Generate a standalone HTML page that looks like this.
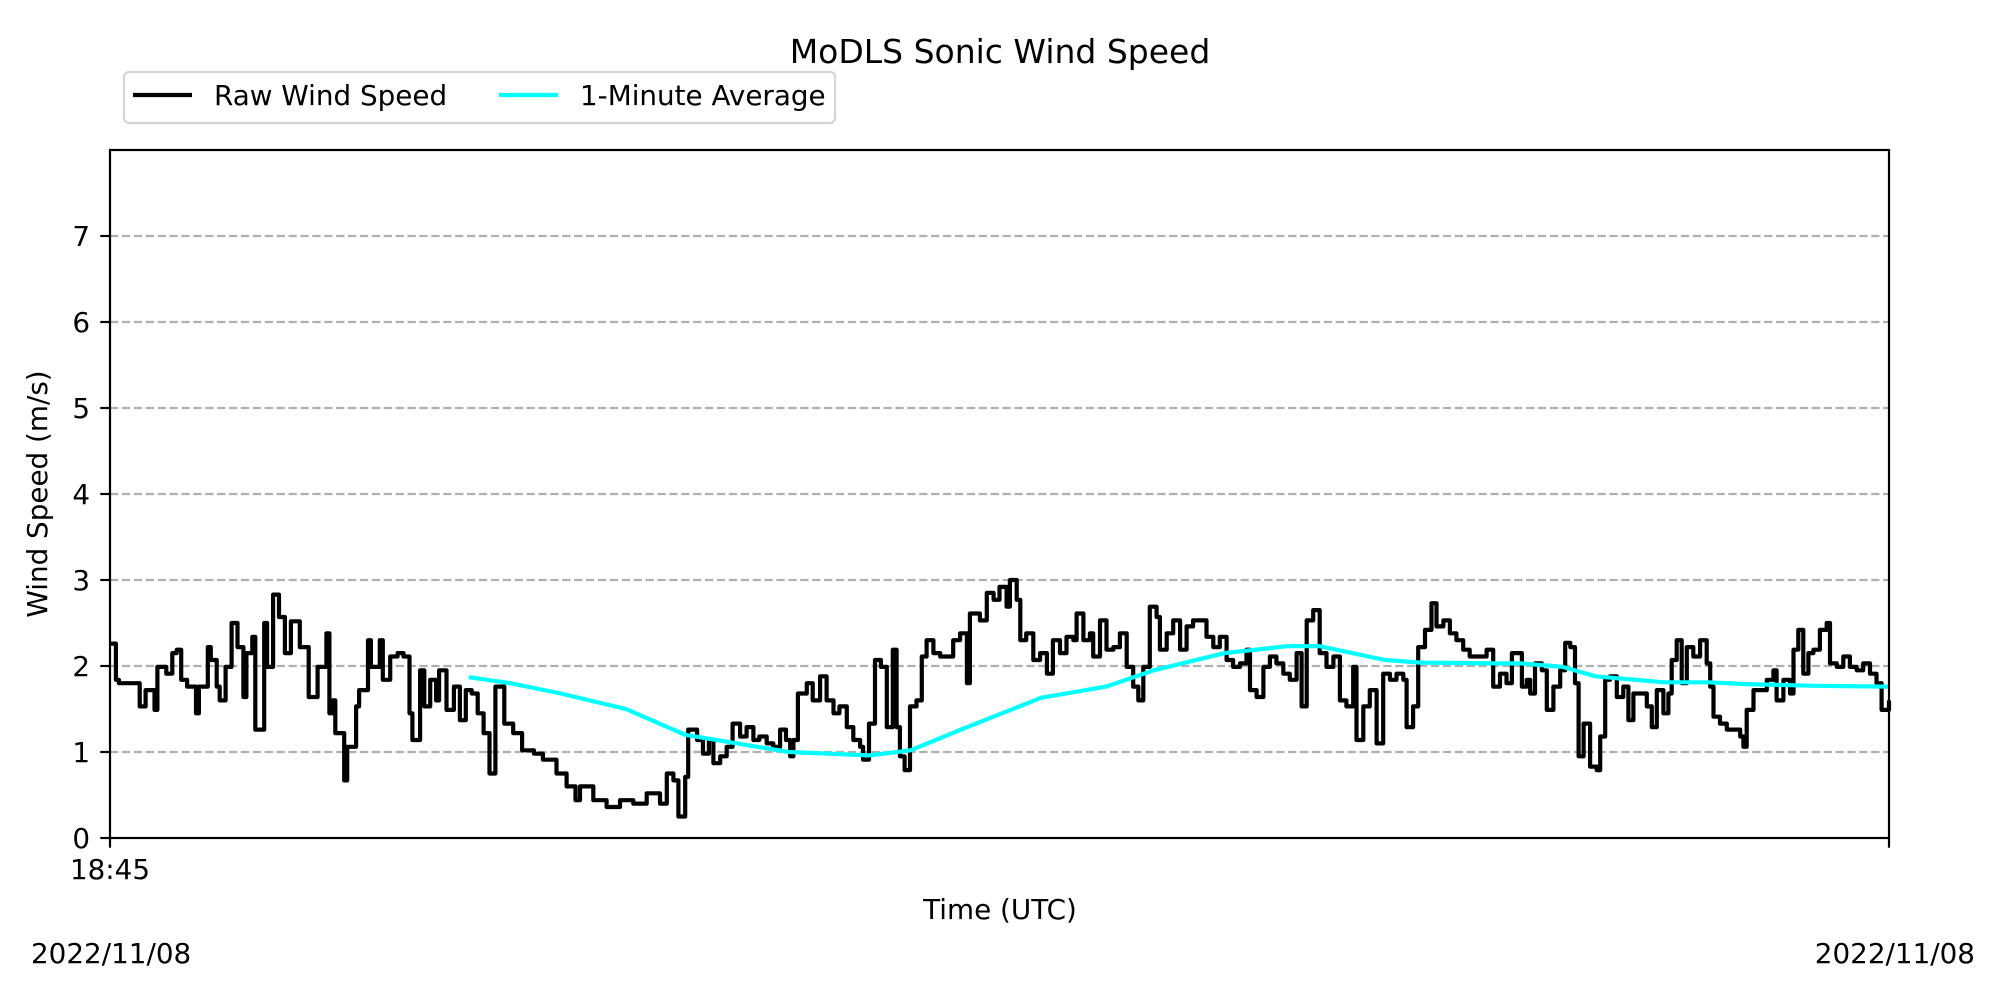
<!DOCTYPE html>
<html><head><meta charset="utf-8"><style>
html,body{margin:0;padding:0;background:#fff;}
svg{display:block;font-family:"DejaVu Sans","Liberation Sans",sans-serif;}
</style></head><body>
<svg id="chart" width="2000" height="1000" viewBox="0 0 2000 1000">
<rect x="0" y="0" width="2000" height="1000" fill="#fff"/>
<text x="1000" y="63" font-size="33" text-anchor="middle">MoDLS Sonic Wind Speed</text>
<g id="grid"></g>
<g id="series"></g>
<rect x="110" y="150" width="1779" height="688" fill="none" stroke="#000" stroke-width="2.2"/>
<g id="yticks"></g>
<g id="xticks"></g>
<text x="47" y="494" font-size="27.8" text-anchor="middle" transform="rotate(-90 47 494)">Wind Speed (m/s)</text>
<text x="1000" y="919" font-size="27.8" text-anchor="middle">Time (UTC)</text>
<text x="31" y="963" font-size="27.8">2022/11/08</text>
<text x="1975" y="963" font-size="27.8" text-anchor="end">2022/11/08</text>
<g>
<rect x="124" y="72" width="711" height="51" rx="5" fill="#fff" stroke="#d5d5d5" stroke-width="2.2"/>
<line x1="133" y1="95" x2="192" y2="95" stroke="#000" stroke-width="4.2"/>
<text x="214" y="105" font-size="27.8">Raw Wind Speed</text>
<line x1="499" y1="95" x2="558" y2="95" stroke="#00ffff" stroke-width="4.2"/>
<text x="580" y="105" font-size="27.8">1-Minute Average</text>
</g>
</svg>
<script>
const rawTimes=[0,2,3,9,10,12,15,16,19,21,22.5,24,26,29,30,33,34,36,37,39,41,43,45,46,48,49,52,53,55,57,59,61,64,67,70,73,74,75,76,79,80,83,84,87,88,91,92,94.5,97,99,101,102,104.6,106,108,110,111,113.5,116,118,120,122,124,126,128,130,133,136,139,143,146,150.6,154,157,
158.5,163,167.5,172,176.5,181,185.5,187.8,190,191.7,194,195,198,200,202,203.5,205.8,208,210,212.5,214.7,217,219,221.5,223.7,226,228,229.4,230.5,232,235,237,239.5,241.7,244,246,248.5,250.7,253,254,256,258,260,262,264,265.3,266.4,268,269.8,272,273.8,275.4,277.7,280,282,284.4,286.7,289,290,293.4,295.7,298,300,302.4,303.5,305.8,307,309,311.4,313.7,
316,318,320.4,322.6,324.9,326,328.3,330.5,331.6,333.9,336.1,338.4,340.6,342.9,345.1,346.8,348.5,350.7,353,354.1,356.4,358.6,360.9,363.1,365.3,367.6,369.8,372.1,374.3,376.6,378.8,381.1,383.3,384.5,386.7,389,391.2,393.4,395.7,397.9,400.2,401.9,403.6,405.8,408,410.3,412.6,414.8,417,419.3,420.4,422.7,424.9,427.2,429.4,431.7,433.9,436.2,437.3,439.5,441.2,443.5,445.7,447.4,449.7,451.9,454.1,456.4,458.6,462,464.3,466.5,468.8,
471,472.8,474.5,476.2,477.8,479,480.6,482.9,484.6,486.8,489.1,490.8,492.5,494.1,495.3,497,499.2,501.4,502.6,504.3,505.9,508.2,510.4,512.1,513.8,516,518.3,520,521.7,523.9,525.6,526.7,528.4,530.1,531.8,534,536.3,538.5,539.7,540.8,543,545.3,547.5,549.8,550.9,552,554.3,556.5,558.8,561,562.1,564.4,566.6,567.8,569.4,571.1,572.8,574.5,576.7,579,580.1,582.4,584.6,586.8,589.1,591.3,593.6,595.8,597.5,600];
const rawValues=[2.26,1.84,1.8,1.8,1.53,1.72,1.49,1.99,1.91,2.15,2.19,1.84,1.76,1.45,1.76,2.22,2.07,1.76,1.6,1.99,2.5,2.22,1.64,2.15,2.34,1.26,2.5,1.99,2.83,2.57,2.15,2.52,2.22,1.64,1.99,2.38,1.45,1.6,1.22,0.67,1.06,1.53,1.72,2.3,1.99,2.3,1.84,2.11,2.15,2.11,1.45,1.14,1.95,1.53,1.84,1.6,1.95,1.49,1.76,1.37,1.72,1.68,1.45,1.22,0.75,1.76,1.33,1.22,1.02,0.98,0.91,0.75,0.6,0.44,
0.6,0.44,0.36,0.44,0.4,0.52,0.4,0.75,0.67,0.25,0.71,1.26,1.14,0.98,1.14,0.87,0.95,1.06,1.33,1.18,1.29,1.14,1.18,1.1,1.06,1.26,1.14,0.95,1.14,1.68,1.8,1.6,1.88,1.6,1.45,1.53,1.29,1.14,1.06,0.91,1.33,2.07,1.99,1.29,2.19,1.29,0.95,0.79,1.53,1.6,2.11,2.3,2.15,2.11,2.11,2.3,2.38,1.8,2.61,2.53,2.85,2.77,2.92,2.69,3.0,2.77,2.3,2.38,2.07,2.15,
1.91,2.3,2.15,2.34,2.3,2.61,2.3,2.38,2.11,2.53,2.19,2.22,2.38,1.99,1.76,1.6,1.99,2.69,2.57,2.19,2.38,2.53,2.19,2.46,2.53,2.53,2.34,2.22,2.34,2.07,1.99,2.03,2.19,1.72,1.64,1.99,2.11,2.03,1.91,1.84,2.15,1.53,2.53,2.65,2.15,1.99,2.11,1.6,1.53,1.99,1.14,1.53,1.72,1.1,1.91,1.84,1.91,1.84,1.29,1.53,2.22,2.42,2.73,2.46,2.53,2.38,2.3,2.19,2.11,2.11,2.19,1.76,1.91,
1.8,2.15,2.15,1.76,1.84,1.68,2.03,1.95,1.49,1.76,1.95,2.27,2.22,1.8,0.95,1.33,0.83,0.79,1.18,1.84,1.88,1.64,1.76,1.37,1.68,1.68,1.53,1.29,1.72,1.45,1.68,2.07,2.3,1.8,2.22,2.11,2.3,2.03,1.76,1.41,1.33,1.26,1.26,1.18,1.06,1.49,1.72,1.72,1.84,1.95,1.6,1.84,1.68,2.19,2.42,1.91,2.15,2.19,2.42,2.5,2.03,1.99,2.11,1.99,1.95,2.03,1.91,1.8,1.49,1.6];
const avgTimes=[121,135,152,174,194,208,229,256,270,287,314,336,352,376,397,408,430,442,469,476,490,501,524,539,552,575,600];
const avgValues=[1.87,1.8,1.68,1.5,1.2,1.12,1.0,0.96,1.02,1.26,1.63,1.76,1.95,2.15,2.23,2.23,2.07,2.04,2.03,2.03,1.99,1.88,1.81,1.81,1.79,1.77,1.76];
const yTickValues=[0,1,2,3,4,5,6,7];
const yTickLabels=["0","1","2","3","4","5","6","7"];
const xTickTimes=[0,600];
const xTickLabels=["18:45",""];

const NS="http://www.w3.org/2000/svg";
const X0=110,X1=1889,Y0=838,Y1=150,TMAX=600,VMAX=8;
function xs(t){return X0+(t/TMAX)*(X1-X0);}
function ys(v){return Y0-(v/VMAX)*(Y0-Y1);}
function mk(tag,attrs,parent){const e=document.createElementNS(NS,tag);for(const k in attrs)e.setAttribute(k,attrs[k]);parent.appendChild(e);return e;}
const grid=document.getElementById('grid'),yt=document.getElementById('yticks'),xt=document.getElementById('xticks'),ser=document.getElementById('series');
yTickValues.forEach((v,i)=>{
  if(v>0){const g=mk('line',{x1:X0,x2:X1,y1:ys(v),y2:ys(v),stroke:'#b0b0b0','stroke-width':2.2,'stroke-dasharray':'8.3,3.6'},grid);
  
  }
  const tk=mk('line',{x1:X0-9.7,x2:X0,y1:ys(v),y2:ys(v),stroke:'#000','stroke-width':2.2},yt);
  
  
  const tx=mk('text',{x:X0-20,y:ys(v)+10,'font-size':27.8,'text-anchor':'end'},yt);
  tx.textContent=yTickLabels[i];
  
  
});
xTickTimes.forEach((t,i)=>{
  const tk=mk('line',{x1:xs(t),x2:xs(t),y1:Y0,y2:Y0+9.7,stroke:'#000','stroke-width':2.2},xt);
  
  
  if(xTickLabels[i]){const tx=mk('text',{x:xs(t),y:Y0+41,'font-size':27.8,'text-anchor':'middle'},xt);
  tx.textContent=xTickLabels[i];
  
  }
});
let d='';
rawTimes.forEach((t,i)=>{const x=xs(t).toFixed(1),y=ys(rawValues[i]).toFixed(1);
  if(i===0)d+='M'+x+','+y;else d+='L'+x+','+ys(rawValues[i-1]).toFixed(1)+'L'+x+','+y;});
const raw=mk('path',{d:d,fill:'none',stroke:'#000','stroke-width':4.2,'stroke-linejoin':'round'},ser);


const pts=avgTimes.map((t,i)=>xs(t).toFixed(1)+','+ys(avgValues[i]).toFixed(1)).join(' ');
const avg=mk('polyline',{points:pts,fill:'none',stroke:'#00ffff','stroke-width':4.2,'stroke-linejoin':'round'},ser);


</script>
</body></html>
